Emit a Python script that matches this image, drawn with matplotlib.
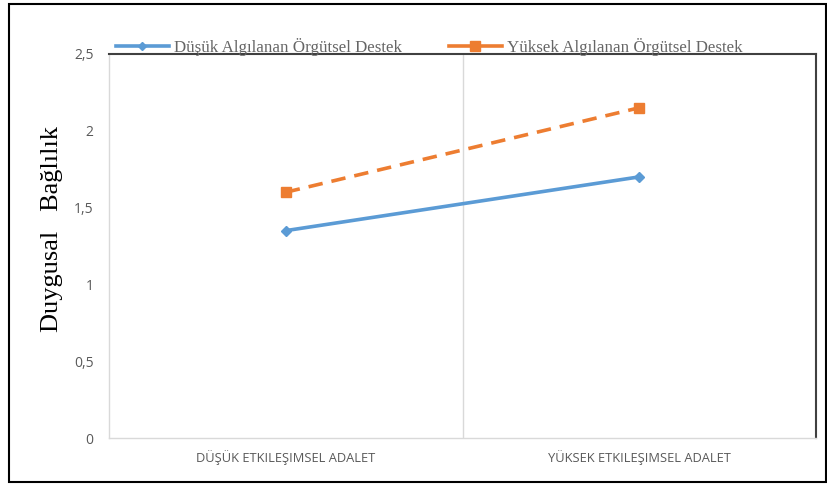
import numpy as np
import matplotlib
matplotlib.use('Agg')
import matplotlib.pyplot as plt
from matplotlib.patches import Rectangle
from matplotlib.lines import Line2D

# Data
categories = ['DÜŞÜK ETKILEŞIMSEL ADALET', 'YÜKSEK ETKILEŞIMSEL ADALET']
low_support = [1.35, 1.70]
high_support = [1.60, 2.15]
series_names = ['Düşük Algılanan Örgütsel Destek', 'Yüksek Algılanan Örgütsel Destek']
y_ticks = [0, 0.5, 1, 1.5, 2, 2.5]
y_tick_labels = ['0', '0,5', '1', '1,5', '2', '2,5']

blue = '#5B9BD5'
orange = '#ED7D31'

fig = plt.figure(figsize=(8.27, 4.84), dpi=100)
ax = fig.add_axes([109/827, 1 - 438/484, (816 - 109)/827, (438 - 54)/484])

x = np.arange(len(categories))
ax.plot(x, low_support, color=blue, lw=2.6, marker='D', ms=5, zorder=3)
ax.plot(x, high_support, color=orange, lw=2.6, ls=(0, (4, 2.5)), marker='s', ms=7.5, zorder=3)

ax.set_xlim(-0.5, 1.5)
ax.set_ylim(0, 2.5)
ax.axvline(0.5, color='#d9d9d9', lw=1, zorder=1)

ax.set_xticks(x)
ax.set_xticklabels(categories, fontsize=9.3, color='#595959', family='Open Sans')
ax.set_yticks(y_ticks)
ax.set_yticklabels(y_tick_labels, fontsize=10, color='#595959', family='Open Sans')
ax.tick_params(length=0)
ax.tick_params(axis='x', pad=9)
ax.tick_params(axis='y', pad=11)

for side in ['left', 'bottom']:
    ax.spines[side].set_color('#d9d9d9')
    ax.spines[side].set_linewidth(1)
for side in ['top', 'right']:
    ax.spines[side].set_color('#404040')
    ax.spines[side].set_linewidth(1.5)

# Y label in serif, placed like the reference
fig.text(52/827, 1 - 229/484, 'Duygusal   Bağlılık', rotation=90, ha='center', va='center',
         fontsize=19, family='Liberation Serif', color='black')

# Legend across the top
handles = [Line2D([], [], color=blue, lw=2.6, marker='D', ms=4),
           Line2D([], [], color=orange, lw=2.6, marker='s', ms=7)]
fig.legend(handles, series_names, loc='lower left', bbox_to_anchor=(116/827, 1 - 56/484),
           ncol=2, frameon=False, handlelength=3.1, handletextpad=0.3, columnspacing=2.8,
           prop={'family': 'Liberation Serif', 'size': 12.2}, labelcolor='#666666',
           borderaxespad=0, borderpad=0)

# Outer frame
fig.patches.append(Rectangle((9/827, 2/484), 1 - 9/827 - 1/827, 1 - 6/484, transform=fig.transFigure,
                             fill=False, edgecolor='black', lw=1.5))

fig.savefig('out.png', dpi=100)
